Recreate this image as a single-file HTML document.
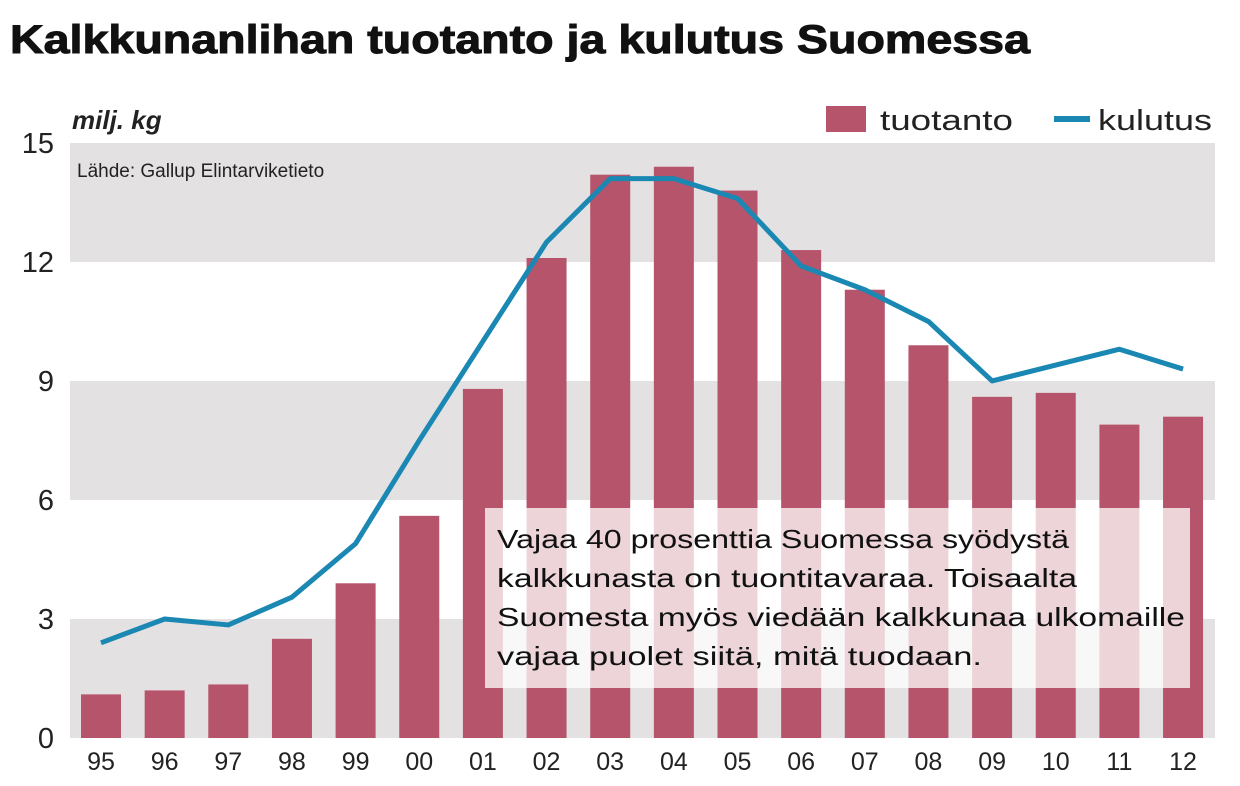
<!DOCTYPE html>
<html><head><meta charset="utf-8"><style>
body{margin:0;background:#fff;width:1240px;height:781px;overflow:hidden;font-family:"Liberation Sans","DejaVu Sans",sans-serif}
</style></head><body>
<svg width="1240" height="781" xmlns="http://www.w3.org/2000/svg" font-family="Liberation Sans, DejaVu Sans, sans-serif">
<text x="10" y="53" font-size="40" font-weight="bold" fill="#111" textLength="1020" lengthAdjust="spacingAndGlyphs" stroke="#111" stroke-width="1">Kalkkunanlihan tuotanto ja kulutus Suomessa</text>
<rect x="70" y="143" width="1145" height="119" fill="#e4e1e2"/>
<rect x="70" y="381" width="1145" height="119" fill="#e4e1e2"/>
<rect x="70" y="619" width="1145" height="119" fill="#e4e1e2"/>
<g font-size="29" fill="#222" text-anchor="end">
<text x="54" y="153">15</text><text x="54" y="272">12</text><text x="54" y="391">9</text><text x="54" y="510">6</text><text x="54" y="629">3</text><text x="54" y="748">0</text>
</g>
<text x="72" y="129" font-size="26" font-style="italic" font-weight="bold" fill="#222">milj. kg</text>
<text x="77" y="177" font-size="19" fill="#222">Lähde: Gallup Elintarviketieto</text>
<rect x="826" y="106" width="40" height="26" fill="#b5546a"/>
<text x="880" y="130" font-size="29" fill="#222" textLength="133" lengthAdjust="spacingAndGlyphs">tuotanto</text>
<line x1="1054" y1="119" x2="1090" y2="119" stroke="#1a88b3" stroke-width="6"/>
<text x="1098" y="130" font-size="29" fill="#222" textLength="114" lengthAdjust="spacingAndGlyphs">kulutus</text>
<g fill="#b5546a" id="bars"></g>
<polyline id="ln" fill="none" stroke="#1a88b3" stroke-width="5" stroke-linejoin="round"/>
<rect x="485" y="508" width="705" height="180" fill="#fff" opacity="0.75"/>
<g font-size="26" fill="#111">
<text x="497" y="548" textLength="572" lengthAdjust="spacingAndGlyphs">Vajaa 40 prosenttia Suomessa syödystä</text>
<text x="497" y="587" textLength="580" lengthAdjust="spacingAndGlyphs">kalkkunasta on tuontitavaraa. Toisaalta</text>
<text x="497" y="626" textLength="688" lengthAdjust="spacingAndGlyphs">Suomesta myös viedään kalkkunaa ulkomaille</text>
<text x="497" y="665" textLength="485" lengthAdjust="spacingAndGlyphs">vajaa puolet siitä, mitä tuodaan.</text>
</g>
<g id="xl" font-size="25" fill="#222" text-anchor="middle"></g>
</svg>
<script>
var b=[1.1,1.2,1.35,2.5,3.9,5.6,8.8,12.1,14.2,14.4,13.8,12.3,11.3,9.9,8.6,8.7,7.9,8.1];
var l=[2.4,3.0,2.85,3.55,4.9,7.5,10.0,12.5,14.1,14.1,13.6,11.9,11.3,10.5,9.0,9.4,9.8,9.3];
var lab=["95","96","97","98","99","00","01","02","03","04","05","06","07","08","09","10","11","12"];
var ns="http://www.w3.org/2000/svg",g=document.getElementById("bars"),xl=document.getElementById("xl"),pts=[];
function y(v){return 738-v*39.67}
for(var i=0;i<18;i++){var x=101+i*63.65;
var r=document.createElementNS(ns,"rect");r.setAttribute("x",x-20);r.setAttribute("y",y(b[i]));r.setAttribute("width",40);r.setAttribute("height",738-y(b[i]));g.appendChild(r);
var t=document.createElementNS(ns,"text");t.setAttribute("x",x);t.setAttribute("y",770);t.textContent=lab[i];xl.appendChild(t);
pts.push(x+","+y(l[i]));}
document.getElementById("ln").setAttribute("points",pts.join(" "));
</script>
</body></html>
